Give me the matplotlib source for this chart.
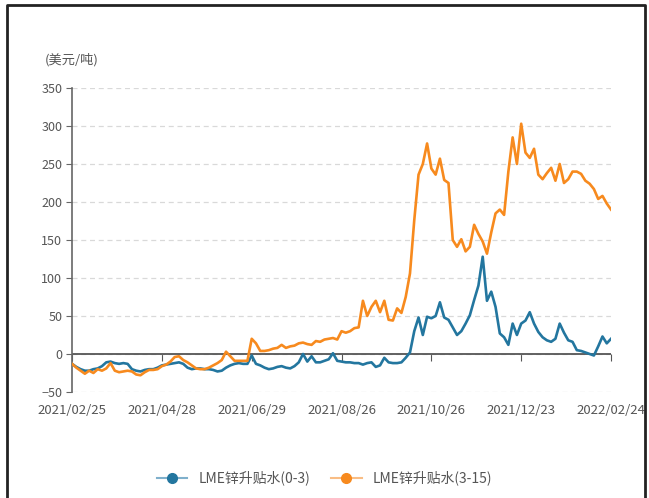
import matplotlib.pyplot as plt
from matplotlib.lines import Line2D

plt.rcParams['font.family'] = ['Liberation Sans Narrow', 'Noto Sans CJK SC', 'DejaVu Sans']

# data, one point every second trading day
date_labels = ['2021/02/25', '2021/04/28', '2021/06/29', '2021/08/26',
               '2021/10/26', '2021/12/23', '2022/02/24']
label_step = 21

spread_0_3 = [
    -13, -17, -20, -22, -22, -20, -19, -16, -11, -10,
    -12, -13, -12, -13, -20, -22, -23, -21, -20, -20,
    -18, -15, -14, -13, -12, -11, -13, -18, -20, -19,
    -19, -20, -20, -21, -23, -22, -18, -15, -13, -12,
    -13, -13, -2, -13, -15, -18, -20, -19, -17, -16,
    -18, -19, -16, -11, 0, -10, -3, -11, -11, -9,
    -7, 1, -9, -10, -11, -11, -12, -12, -14, -12,
    -11, -17, -15, -5, -11, -12, -12, -11, -5, 2,
    30, 48, 25, 49, 47, 50, 68, 48, 45, 35,
    25, 30, 40, 51, 71, 90, 128, 70, 82, 62,
    27, 22, 12, 40, 25, 40, 44, 55, 40, 29,
    22, 18, 16, 20, 40, 28, 18, 16, 5, 4,
    2, 0, -2, 10, 23, 14, 20,
]

spread_3_15 = [
    -13, -18, -22, -26, -22, -25, -20, -22, -19, -12,
    -22, -24, -23, -22, -23, -27, -28, -24, -21, -21,
    -20, -16, -14, -10, -4, -3, -8, -11, -15, -19,
    -20, -20, -18, -15, -12, -8, 3, -3, -9, -9,
    -9, -9, 20, 14, 4, 4, 5, 7, 8, 12,
    8, 10, 11, 14, 15, 13, 12, 17, 16, 19,
    20, 21, 19, 30, 28, 30, 34, 35, 70, 50,
    62, 70, 55, 70, 45, 44, 60, 54, 75, 106,
    176, 236, 250, 277, 244, 236, 257, 229, 225, 150,
    141, 151, 135, 141, 170, 158, 148, 132, 160, 185,
    190, 183, 240, 285, 250, 303, 265, 258, 270, 236,
    230, 238, 245, 228, 250, 225, 230, 240, 240, 237,
    228, 224, 217, 204, 208, 198, 190,
]

blue = '#23769f'
orange = '#f78a1e'

fig = plt.figure(figsize=(6.49, 4.98), dpi=100)
ax = fig.add_axes([0.111, 0.2129, 0.8305, 0.6104])

x = list(range(len(spread_0_3)))
ax.plot(x, spread_0_3, color=blue, lw=1.9, solid_joinstyle='round', zorder=3)
ax.plot(x, spread_3_15, color=orange, lw=1.9, solid_joinstyle='round', zorder=3)

ax.set_ylim(-50, 350)
ax.set_xlim(0, len(x) - 1)
ax.set_yticks(range(-50, 351, 50))
ax.yaxis.grid(True, ls=(0, (4, 3)), color='#d9d9d9', lw=0.9)
ax.set_axisbelow(True)
ax.tick_params(axis='y', length=4, color='#666666', labelsize=9, labelcolor='#555555', pad=3)

ticks = [i * label_step for i in range(len(date_labels))]
ax.set_xticks(ticks)
ax.set_xticklabels(date_labels)
ax.tick_params(axis='x', length=0, labelsize=9.5, labelcolor='#555555', pad=9)

for s in ['top', 'right', 'bottom']:
    ax.spines[s].set_visible(False)
ax.spines['left'].set_color('#666666')
ax.spines['left'].set_linewidth(1.2)

# zero line carries the x tick marks
ax.axhline(0, color='#555555', lw=1.3, zorder=2)
sec = ax.secondary_xaxis(0.125)
sec.set_xticks(ticks)
sec.tick_params(axis='x', length=5, color='#555555', labelbottom=False)
sec.spines['bottom'].set_visible(False)

fig.text(0.069, 0.872, '(美元/吨)', fontsize=9.5, color='#555555')

handles = [
    Line2D([], [], color='#7fb0cc', lw=1.5, marker='o', ms=7, mfc=blue, mec=blue),
    Line2D([], [], color='#f9bd85', lw=1.5, marker='o', ms=7, mfc=orange, mec=orange),
]
fig.legend(handles, ['LME锌升贴水(0-3)', 'LME锌升贴水(3-15)'], loc='center',
           bbox_to_anchor=(0.5, 0.04), ncol=2, frameon=False, fontsize=10,
           handlelength=2.2, columnspacing=1.5, labelcolor='#555555')

# open frame: left, top and right edges only
fig.add_artist(Line2D([0.011, 0.011, 0.994, 0.994], [0.0, 0.99, 0.99, 0.0],
                      transform=fig.transFigure, color='#222222', lw=2))

fig.savefig('out.png', dpi=100)
